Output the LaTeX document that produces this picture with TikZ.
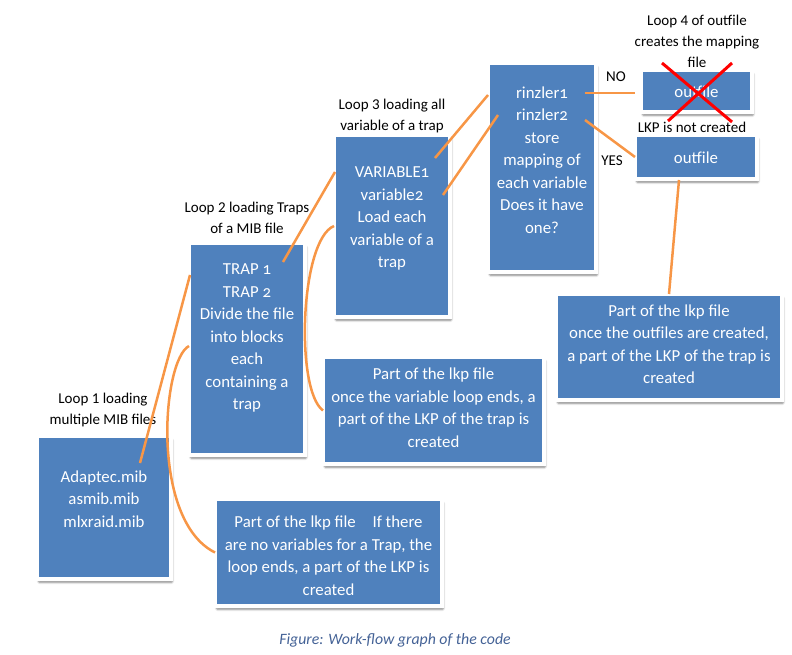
\documentclass[tikz,border=0pt]{standalone}
\usepackage{fontspec}
\setmainfont{Carlito}
\newfontfamily\boxfont{Carlito}[Numbers=OldStyle]
\usetikzlibrary{shadows,shadows.blur}
\definecolor{boxblue}{HTML}{4F81BD}
\definecolor{wireorange}{HTML}{F79646}
\definecolor{capblue}{RGB}{68,98,150}
\tikzset{
  blk/.style={draw=white, line width=4pt, fill=boxblue, outer sep=0pt,
    blur shadow={shadow xshift=1.5pt, shadow yshift=-3.5pt, shadow blur steps=6,
      shadow blur extra rounding=1pt, shadow opacity=45}},
  btext/.style={text=white, font=\boxfont\fontsize{16.8}{22.5}\selectfont, align=center, inner sep=0pt},
  looptext/.style={font=\fontsize{15}{21}\selectfont, align=center, inner sep=0pt},
  wire/.style={draw=wireorange, line width=2.5pt},
  redx/.style={draw=red, line width=3pt},
}
\begin{document}
\begin{tikzpicture}[x=1pt,y=1pt]
\useasboundingbox (0,0) rectangle (792,654);

% Loop 1
\node[blk, minimum width=134pt, minimum height=143pt] (mibs) at (104,146.5) {};
\node[btext] (mibs-t) at ([yshift=8.5pt]mibs.center) {Adaptec.mib\\asmib.mib\\mlxraid.mib};
\node[looptext] (loop1) at (103,244) {Loop 1 loading\\multiple MIB files};

% Loop 2
\node[blk, minimum width=116pt, minimum height=212pt] (traps) at (247,305) {};
\node[btext] (traps-t) at ([yshift=11pt]traps.center) {TRAP 1\\TRAP 2\\Divide the file\\into blocks\\each\\containing a\\trap};
\node[looptext] (loop2) at (247,436) {Loop 2 loading Traps\\of a MIB file};

% Loop 3
\node[blk, minimum width=116pt, minimum height=182pt] (vars) at (392,428) {};
\node[btext] (vars-t) at ([yshift=7.5pt]vars.center) {VARIABLE1\\variable2\\Load each\\variable of a\\trap};
\node[looptext] (loop3) at (392,538) {Loop 3 loading all\\variable of a trap};

% mapping
\node[blk, minimum width=108pt, minimum height=209pt] (rinz) at (542,486.5) {};
\node[btext] (rinz-t) at ([yshift=7.5pt]rinz.center) {rinzler1\\rinzler2\\store\\mapping of\\each variable\\Does it have\\one?};

% Loop 4
\node[blk, minimum width=111pt, minimum height=42pt] (outno) at (696.5,563) {};
\node[btext] (outno-t) at ([yshift=-1pt]outno.center) {outfile};
\node[blk, minimum width=122pt, minimum height=44pt] (outyes) at (696,497) {};
\node[btext] (outyes-t) at ([yshift=-1pt]outyes.center) {outfile};
\node[looptext] (loop4) at (697,613) {Loop 4 of outfile\\creates the mapping\\file};
\node[looptext] (no) at (616,577) {NO};
\node[looptext] (yes) at (612,493) {YES};
\node[looptext] (nolkp) at (692,527) {LKP is not created};

% parts of the lkp file
\node[blk, minimum width=226pt, minimum height=106pt] (lkpout) at (669,307) {};
\node[btext] (lkpout-t) at ([yshift=3pt]lkpout.center) {Part of the lkp file\\once the outfiles are created,\\a part of the LKP of the trap is\\created};
\node[blk, minimum width=221pt, minimum height=107pt] (lkpvar) at (433.5,243.5) {};
\node[btext] (lkpvar-t) at ([yshift=3pt]lkpvar.center) {Part of the lkp file\\once the variable loop ends, a\\part of the LKP of the trap is\\created};
\node[blk, minimum width=227pt, minimum height=107pt] (lkptrap) at (328.5,101.5) {};
\node[btext] (lkptrap-t) at ([yshift=-3pt]lkptrap.center) {Part of the lkp file\quad If there\\are no variables for a Trap, the\\loop ends, a part of the LKP is\\created};

% connectors
\draw[wire] ([shift={(36,-27)}]mibs.north) -- ([shift={(1,-32)}]traps.north west);
\draw[wire] ([yshift=3pt]traps.west) .. controls (162,294) and (150,134) .. (lkptrap.west);
\draw[wire] ([shift={(36,-19)}]traps.north) -- ([shift={(1,-37)}]vars.north west);
\draw[wire] (vars.west) .. controls (300,414) and (295,264) .. (lkpvar.west);
\draw[wire] ([shift={(43,-23)}]vars.north) -- ([yshift=-32pt]rinz.north west);
\draw[wire] ([shift={(51,-60)}]vars.north) -- ([shift={(10,-52)}]rinz.north west);
\draw[wire] ([shift={(-11,-30)}]rinz.north east) -- ([shift={(-6,-2)}]outno.west);
\draw[wire] ([shift={(-11,-57)}]rinz.north east) -- (outyes.west);
\draw[wire] ([shift={(-17,-1)}]outyes.south) -- (lkpout.north);

% crossed out
\draw[redx] ([shift={(-34.5,28)}]outno.center) -- ([shift={(35.5,-31)}]outno.center);
\draw[redx] ([shift={(35.5,28)}]outno.center) -- ([shift={(-28.5,-30)}]outno.center);

\node[font=\itshape\fontsize{15.8}{18}\selectfont, text=capblue] (caption) at (395,14) {Figure: Work-flow graph of the code};
\end{tikzpicture}
\end{document}
